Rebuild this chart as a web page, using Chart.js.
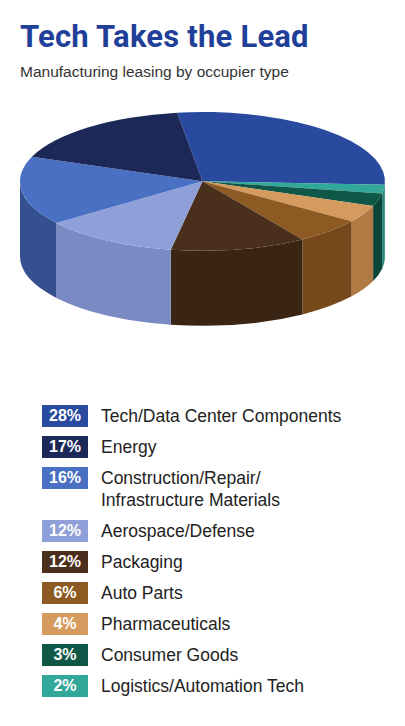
<!DOCTYPE html>
<html><head><meta charset="utf-8">
<script src="https://cdn.jsdelivr.net/npm/chart.js@4"></script>
<style>
body{margin:0;width:405px;height:726px;background:#fff;font-family:"Liberation Sans",Arial,sans-serif;overflow:hidden}
h1{margin:0;position:absolute;left:20px;top:18px;font-family:"Roboto","Liberation Sans",sans-serif;font-weight:700;font-size:31px;color:#1f3f99;letter-spacing:0.2px}
.sub{position:absolute;left:20px;top:63px;font-size:15.5px;color:#333}
#wrap{position:absolute;left:0;top:100px;width:405px;height:260px}
#legend{position:absolute;left:42px;top:405px}
.row{display:flex;align-items:flex-start;margin-bottom:9px}
.sw{width:46px;height:22px;color:#fff;font-weight:700;font-size:16px;text-align:center;line-height:22px;margin-right:13px;flex:none}
.lab{font-size:17.5px;color:#222;line-height:22px}
</style></head><body>
<h1>Tech Takes the Lead</h1>
<div class="sub">Manufacturing leasing by occupier type</div>
<div id="wrap"><canvas id="c"></canvas></div>
<div id="legend"></div>
<script>
const legendLabels=["Tech/Data Center Components","Energy","Construction/Repair/<br>Infrastructure Materials","Aerospace/Defense","Packaging","Auto Parts","Pharmaceuticals","Consumer Goods","Logistics/Automation Tech"];
const legendValues=[28,17,16,12,12,6,4,3,2];
const legendColors=["#2a4aa0","#1c2858","#4a70c4","#8fa0d8","#4a2f1c","#8c5a22","#d49a5e","#0f5848","#31a89a"];
// pie order clockwise from top
const pieLabels=["Tech/Data Center Components","Logistics/Automation Tech","Consumer Goods","Pharmaceuticals","Auto Parts","Packaging","Aerospace/Defense","Construction/Repair/Infrastructure Materials","Energy"];
const pieValues=[28,2,3,4,6,12,12,16,17];
const pieColors=["#2a4aa0","#31a89a","#0f5848","#d49a5e","#8c5a22","#4a2f1c","#8fa0d8","#4a70c4","#1c2858"];
const sideColors=["#22408f","#27877c","#0b4438","#b07a45","#77481a","#3a2414","#7a8bc4","#34508f","#2f4475"];

const lg=document.getElementById('legend');
legendLabels.forEach((l,i)=>{lg.innerHTML+=`<div class="row"><div class="sw" style="background:${legendColors[i]}">${legendValues[i]}%</div><div class="lab">${l}</div></div>`;});

const pie3d={id:'pie3d',beforeDatasetsDraw(chart){
  const ctx=chart.ctx,a=chart.chartArea,arcs=chart.getDatasetMeta(0).data;
  const cx=(a.left+a.right)/2, rx=(a.right-a.left)/2-12, ry=rx*0.38, depth=75, cy=a.top+ry+12;
  ctx.save();
  const norm=x=>{while(x<-Math.PI)x+=2*Math.PI;while(x>Math.PI)x-=2*Math.PI;return x;};
  arcs.forEach((el,i)=>{
    for(const off of [0,2*Math.PI,-2*Math.PI]){
      let s=Math.max(el.startAngle+off,0), e=Math.min(el.endAngle+off,Math.PI);
      if(e<=s) continue;
      ctx.beginPath();
      ctx.ellipse(cx,cy,rx,ry,0,s,e);
      ctx.ellipse(cx,cy+depth,rx,ry,0,e,s,true);
      ctx.closePath();ctx.fillStyle=sideColors[i];ctx.fill();
    }
  });
  arcs.forEach((el,i)=>{
    ctx.beginPath();ctx.moveTo(cx,cy);
    ctx.ellipse(cx,cy,rx,ry,0,el.startAngle,el.endAngle);
    ctx.closePath();ctx.fillStyle=pieColors[i];ctx.fill();
  });
  ctx.restore();
  return false;
}};
new Chart(document.getElementById('c'),{type:'pie',
 data:{labels:pieLabels,datasets:[{data:pieValues,backgroundColor:pieColors,borderWidth:0}]},
 options:{responsive:true,maintainAspectRatio:false,animation:false,rotation:-8,layout:{padding:{left:8,right:8}},
  plugins:{legend:{display:false},tooltip:{enabled:false}}},
 plugins:[pie3d]});
</script></body></html>
